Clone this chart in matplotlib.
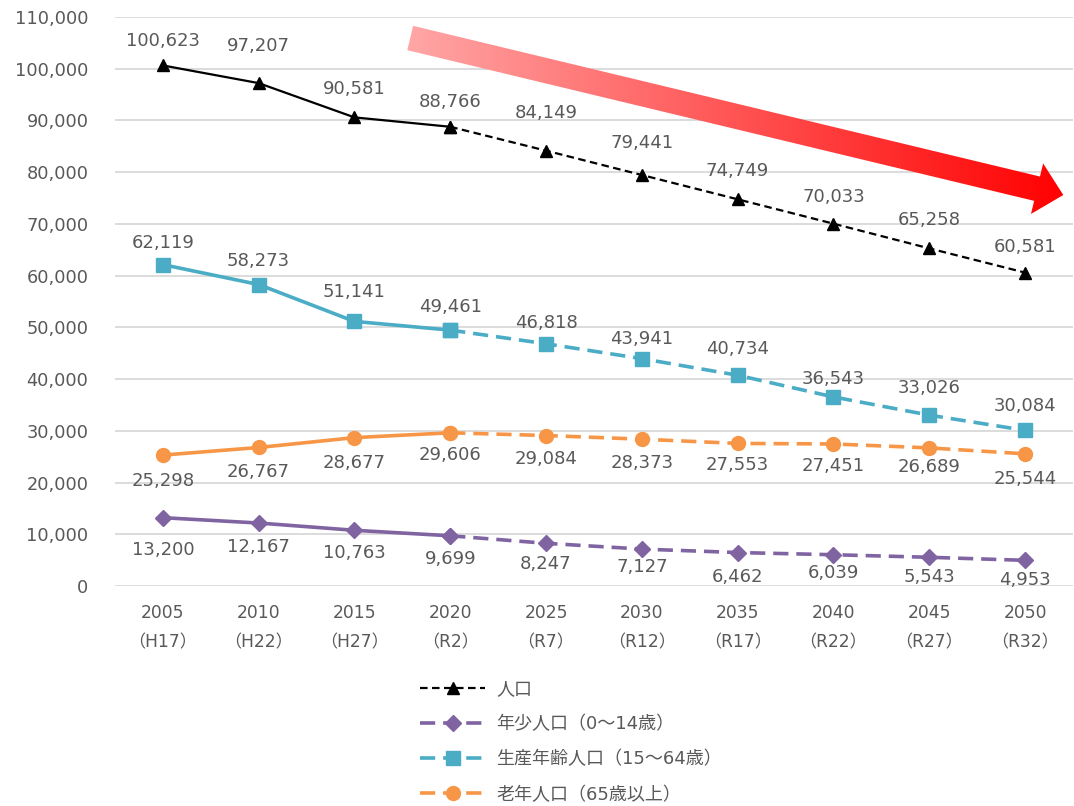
import numpy as np
import matplotlib
matplotlib.use("Agg")
import matplotlib.pyplot as plt
from matplotlib.patches import Polygon

plt.rcParams['font.family'] = ['DejaVu Sans', 'Noto Sans CJK JP']

# data
years = ['2005', '2010', '2015', '2020', '2025', '2030', '2035', '2040', '2045', '2050']
eras = ['H17', 'H22', 'H27', 'R2', 'R7', 'R12', 'R17', 'R22', 'R27', 'R32']
total = [100623, 97207, 90581, 88766, 84149, 79441, 74749, 70033, 65258, 60581]
young = [13200, 12167, 10763, 9699, 8247, 7127, 6462, 6039, 5543, 4953]
working = [62119, 58273, 51141, 49461, 46818, 43941, 40734, 36543, 33026, 30084]
elderly = [25298, 26767, 28677, 29606, 29084, 28373, 27553, 27451, 26689, 25544]

names = ['人口', '年少人口（0～14歳）', '生産年齢人口（15～64歳）', '老年人口（65歳以上）']
last_actual = 3  # 2020 is the last observed value, rest is projection

# label offsets in pixels (+ up / - down), as hand-placed in the original
lab_off = {
    '人口': [24, 37, 28, 25, 38, 32, 28, 27, 28, 26],
    '年少人口（0～14歳）': [-32, -24, -23, -23, -21, -18, -24, -18, -20, -20],
    '生産年齢人口（15～64歳）': [22, 24, 29, 23, 21, 20, 26, 18, 27, 24],
    '老年人口（65歳以上）': [-26, -25, -25, -22, -23, -24, -22, -22, -19, -25],
}

GRAY = '#595959'

fig = plt.figure(figsize=(10.74, 8.06), dpi=100)
ax = fig.add_axes([0.107, 0.273, 0.892, 0.706])

x = np.arange(len(years))

series = [
    # values, color, marker, ms, lw, dashes
    (total, 'black', '^', 8.5, 1.6, (3.4, 2.0)),
    (young, '#8064A2', 'D', 8.5, 2.6, (4.2, 2.2)),
    (working, '#4BACC6', 's', 9.5, 2.6, (4.2, 2.2)),
    (elderly, '#F79646', 'o', 10, 2.6, (4.2, 2.2)),
]

handles = []
for (vals, col, mk, ms, lw, dsh), name in zip(series, names):
    vals = np.array(vals)
    ax.plot(x[:last_actual + 1], vals[:last_actual + 1], color=col, lw=lw,
            marker=mk, ms=ms, zorder=3, solid_capstyle='round')
    h, = ax.plot(x[last_actual:], vals[last_actual:], color=col, lw=lw,
                 dashes=dsh, marker=mk, ms=ms, zorder=3)
    handles.append(h)
    for xi, v, off in zip(x, vals, lab_off[name]):
        ax.annotate(f'{v:,}', (xi, v), xytext=(0, off * 0.72), textcoords='offset points',
                    ha='center', va='center', fontsize=13, color=GRAY, zorder=4)

ax.set_xlim(-0.5, len(years) - 0.5)
ax.set_ylim(0, 110000)
ax.set_yticks(np.arange(0, 110001, 10000))
ax.yaxis.set_major_formatter(matplotlib.ticker.FuncFormatter(lambda v, p: f'{int(v):,}'))
ax.set_xticks(x)
ax.set_xticklabels([f'{y}\n（{e}）' for y, e in zip(years, eras)], linespacing=1.8)
ax.tick_params(axis='y', length=0, pad=19, labelsize=12.8, labelcolor=GRAY)
ax.tick_params(axis='x', length=0, pad=13, labelsize=12.3, labelcolor=GRAY)
ax.grid(axis='y', color='#D9D9D9', lw=1.3)
ax.set_axisbelow(True)
for s in ax.spines.values():
    s.set_visible(False)

fig.legend(handles, names, loc='upper left', bbox_to_anchor=(404 / 1074, 1 - 664 / 806),
           frameon=False, fontsize=13, labelcolor=GRAY, numpoints=1,
           handlelength=3.6, handletextpad=0.6, labelspacing=0.95)

# red gradient arrow (decoration)
ov = fig.add_axes([0, 0, 1, 1], zorder=10)
ov.set_xlim(0, 1074)
ov.set_ylim(806, 0)
ov.axis('off')
start = np.array([410.2, 38.0])
tip = np.array([1063.3, 195.0])
u = (tip - start) / np.linalg.norm(tip - start)
n = np.array([u[1], -u[0]])
body_hw, head_hw, head_len = 12.5, 26.0, 27.0
base = tip - u * head_len
pts = [start + n * body_hw, base + n * body_hw, base + n * head_hw, tip,
       base - n * head_hw, base - n * body_hw, start - n * body_hw]
poly = Polygon(pts, closed=True, facecolor='none', edgecolor='none')
ov.add_patch(poly)
grad = np.linspace(0, 1, 256).reshape(1, -1)
cmap = matplotlib.colors.LinearSegmentedColormap.from_list('r', ['#FFA8A8', '#FF0000'])
im = ov.imshow(grad, cmap=cmap, aspect='auto', extent=(400, 1068, 222, 15), zorder=10)
im.set_clip_path(poly)

fig.savefig('out.png', dpi=100)
